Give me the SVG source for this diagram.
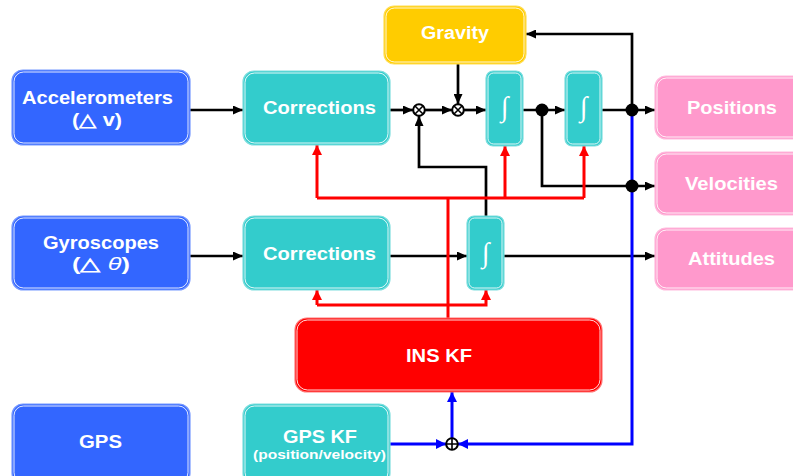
<svg xmlns="http://www.w3.org/2000/svg" width="793" height="476" viewBox="0 0 793 476">
<style>
.lbl{font-family:"Liberation Sans",Arial,sans-serif;font-weight:bold;font-size:17.5px;fill:#fff;text-anchor:middle}
.sm{font-size:13px}
.int{font-family:"Liberation Serif","Times New Roman",serif;font-size:28px;fill:#fff;text-anchor:middle}
.in{fill:none;stroke:#fff;stroke-width:1;opacity:.85}
.blue{fill:#3366ff;stroke:#7799ff;stroke-width:1.2}
.teal{fill:#33cccc;stroke:#7fdede;stroke-width:1.2}
.grav{fill:#ffcc00;stroke:#ffdd55;stroke-width:1.2}
.red{fill:#ff0000;stroke:#ff7777;stroke-width:1.2}
.pink{fill:#ff99cc;stroke:#ffbbdd;stroke-width:1.2}
.k{fill:none;stroke:#000;stroke-width:2.7}
.r{fill:none;stroke:#ff0000;stroke-width:3}
.b{fill:none;stroke:#0000ff;stroke-width:3}
.op{fill:#fff;stroke:#000;stroke-width:2}
</style>
<defs>
<marker id="ak" markerUnits="userSpaceOnUse" markerWidth="10" markerHeight="9" refX="10" refY="4.5" orient="auto"><path d="M0,0 L10,4.5 L0,9 z" fill="#000"/></marker>
<marker id="ar" markerUnits="userSpaceOnUse" markerWidth="10" markerHeight="10" refX="10" refY="5" orient="auto"><path d="M0,0 L10,5 L0,10 z" fill="#ff0000"/></marker>
<marker id="ab" markerUnits="userSpaceOnUse" markerWidth="10" markerHeight="10" refX="10" refY="5" orient="auto"><path d="M0,0 L10,5 L0,10 z" fill="#0000ff"/></marker>
</defs>

<g id="connectors">
<path class="k" d="M190,110 H243" marker-end="url(#ak)"/>
<path class="k" d="M390,110 H413" marker-end="url(#ak)"/>
<path class="k" d="M425,110 H452" marker-end="url(#ak)"/>
<path class="k" d="M464,110 H486" marker-end="url(#ak)"/>
<path class="k" d="M523,110 H565" marker-end="url(#ak)"/>
<path class="k" d="M602,110 H655" marker-end="url(#ak)"/>
<path class="k" d="M632,110 V34 H526" marker-end="url(#ak)"/>
<path class="k" d="M458,64 V104" marker-end="url(#ak)"/>
<path class="k" d="M542,110 V186 H655" marker-end="url(#ak)"/>
<path class="k" d="M486,216 V167 H419 V116" marker-end="url(#ak)"/>
<path class="k" d="M190,256 H243" marker-end="url(#ak)"/>
<path class="k" d="M390,256 H467" marker-end="url(#ak)"/>
<path class="k" d="M504,256 H655" marker-end="url(#ak)"/>
<path class="r" d="M448,318 V198"/>
<path class="r" d="M317,198 H584"/>
<path class="r" d="M317,198 V145" marker-end="url(#ar)"/>
<path class="r" d="M505,198 V146" marker-end="url(#ar)"/>
<path class="r" d="M584,198 V146" marker-end="url(#ar)"/>
<path class="r" d="M317,305 H486 V290" marker-end="url(#ar)"/>
<path class="r" d="M317,305 V290" marker-end="url(#ar)"/>
<path class="b" d="M632,116 V444 H458" marker-end="url(#ab)"/>
<path class="b" d="M390,444 H446" marker-end="url(#ab)"/>
<path class="b" d="M452,438 V392" marker-end="url(#ab)"/>
<circle cx="542" cy="110" r="6.5" fill="#000"/>
<circle cx="632" cy="110" r="6.5" fill="#000"/>
<circle cx="632" cy="186" r="6.5" fill="#000"/>
<g id="mul1"><circle class="op" cx="419" cy="110" r="5.8"/><path d="M415,106 L423,114 M423,106 L415,114" stroke="#000" stroke-width="1.6"/></g>
<g id="mul2"><circle class="op" cx="458" cy="110" r="5.8"/><path d="M454,106 L462,114 M462,106 L454,114" stroke="#000" stroke-width="1.6"/></g>
<g id="sum"><circle class="op" cx="452" cy="444" r="5.8"/><path d="M446.2,444 H457.8 M452,438.2 V449.8" stroke="#000" stroke-width="1.6"/></g>
</g>

<g id="accelerometers"><rect class="blue" x="12" y="70" width="178" height="75" rx="11"/><rect class="in" x="14" y="72" width="174" height="71" rx="9.5"/>
<text class="lbl" x="97.5" y="104" textLength="151" lengthAdjust="spacingAndGlyphs">Accelerometers</text>
<text class="lbl" x="97" y="126" textLength="50" lengthAdjust="spacingAndGlyphs">(△ v)</text></g>

<g id="gyroscopes"><rect class="blue" x="12" y="216" width="178" height="74" rx="11"/><rect class="in" x="14" y="218" width="174" height="70" rx="9.5"/>
<text class="lbl" x="101" y="249" textLength="116" lengthAdjust="spacingAndGlyphs">Gyroscopes</text>
<text class="lbl" x="101" y="270" textLength="58" lengthAdjust="spacingAndGlyphs">(△ <tspan font-style="italic" font-weight="normal">θ</tspan>)</text></g>

<g id="gps"><rect class="blue" x="12" y="404" width="178" height="80" rx="11"/><rect class="in" x="14" y="406" width="174" height="76" rx="9.5"/>
<text class="lbl" x="100.5" y="448" textLength="43" lengthAdjust="spacingAndGlyphs">GPS</text></g>

<g id="corrections1"><rect class="teal" x="243" y="71" width="147" height="74" rx="11"/><rect class="in" x="245" y="73" width="143" height="70" rx="9.5"/>
<text class="lbl" x="319.5" y="114" textLength="113" lengthAdjust="spacingAndGlyphs">Corrections</text></g>

<g id="corrections2"><rect class="teal" x="243" y="216" width="147" height="74" rx="11"/><rect class="in" x="245" y="218" width="143" height="70" rx="9.5"/>
<text class="lbl" x="319.5" y="260" textLength="113" lengthAdjust="spacingAndGlyphs">Corrections</text></g>

<g id="gpskf"><rect class="teal" x="243" y="404" width="147" height="80" rx="11"/><rect class="in" x="245" y="406" width="143" height="76" rx="9.5"/>
<text class="lbl" x="320" y="443" textLength="74" lengthAdjust="spacingAndGlyphs">GPS KF</text>
<text class="lbl sm" x="319.5" y="459" textLength="133" lengthAdjust="spacingAndGlyphs">(position/velocity)</text></g>

<g id="gravity"><rect class="grav" x="384" y="6" width="142" height="58" rx="10"/><rect class="in" x="386" y="8" width="138" height="54" rx="8.5"/>
<text class="lbl" x="455" y="39" textLength="68" lengthAdjust="spacingAndGlyphs">Gravity</text></g>

<g id="integrator1"><rect class="teal" x="486" y="71" width="37" height="75" rx="7"/><rect class="in" x="488" y="73" width="33" height="71" rx="5.5"/>
<text class="int" x="504.5" y="116">∫</text></g>

<g id="integrator2"><rect class="teal" x="565" y="71" width="37" height="75" rx="7"/><rect class="in" x="567" y="73" width="33" height="71" rx="5.5"/>
<text class="int" x="583.5" y="116">∫</text></g>

<g id="integrator3"><rect class="teal" x="467" y="216" width="37" height="74" rx="7"/><rect class="in" x="469" y="218" width="33" height="70" rx="5.5"/>
<text class="int" x="485.5" y="262">∫</text></g>

<g id="inskf"><rect class="red" x="295" y="318" width="307" height="74" rx="12"/><rect class="in" x="297" y="320" width="303" height="70" rx="10.5"/>
<text class="lbl" x="439" y="362" textLength="66" lengthAdjust="spacingAndGlyphs">INS KF</text></g>

<g id="positions"><rect class="pink" x="655" y="76" width="150" height="63" rx="11"/><rect class="in" x="657" y="78" width="146" height="59" rx="9.5"/>
<text class="lbl" x="732" y="114" textLength="90" lengthAdjust="spacingAndGlyphs">Positions</text></g>

<g id="velocities"><rect class="pink" x="655" y="152" width="150" height="63" rx="11"/><rect class="in" x="657" y="154" width="146" height="59" rx="9.5"/>
<text class="lbl" x="731.5" y="190" textLength="93" lengthAdjust="spacingAndGlyphs">Velocities</text></g>

<g id="attitudes"><rect class="pink" x="655" y="228" width="150" height="62" rx="11"/><rect class="in" x="657" y="230" width="146" height="58" rx="9.5"/>
<text class="lbl" x="731.5" y="265" textLength="87" lengthAdjust="spacingAndGlyphs">Attitudes</text></g>
</svg>
